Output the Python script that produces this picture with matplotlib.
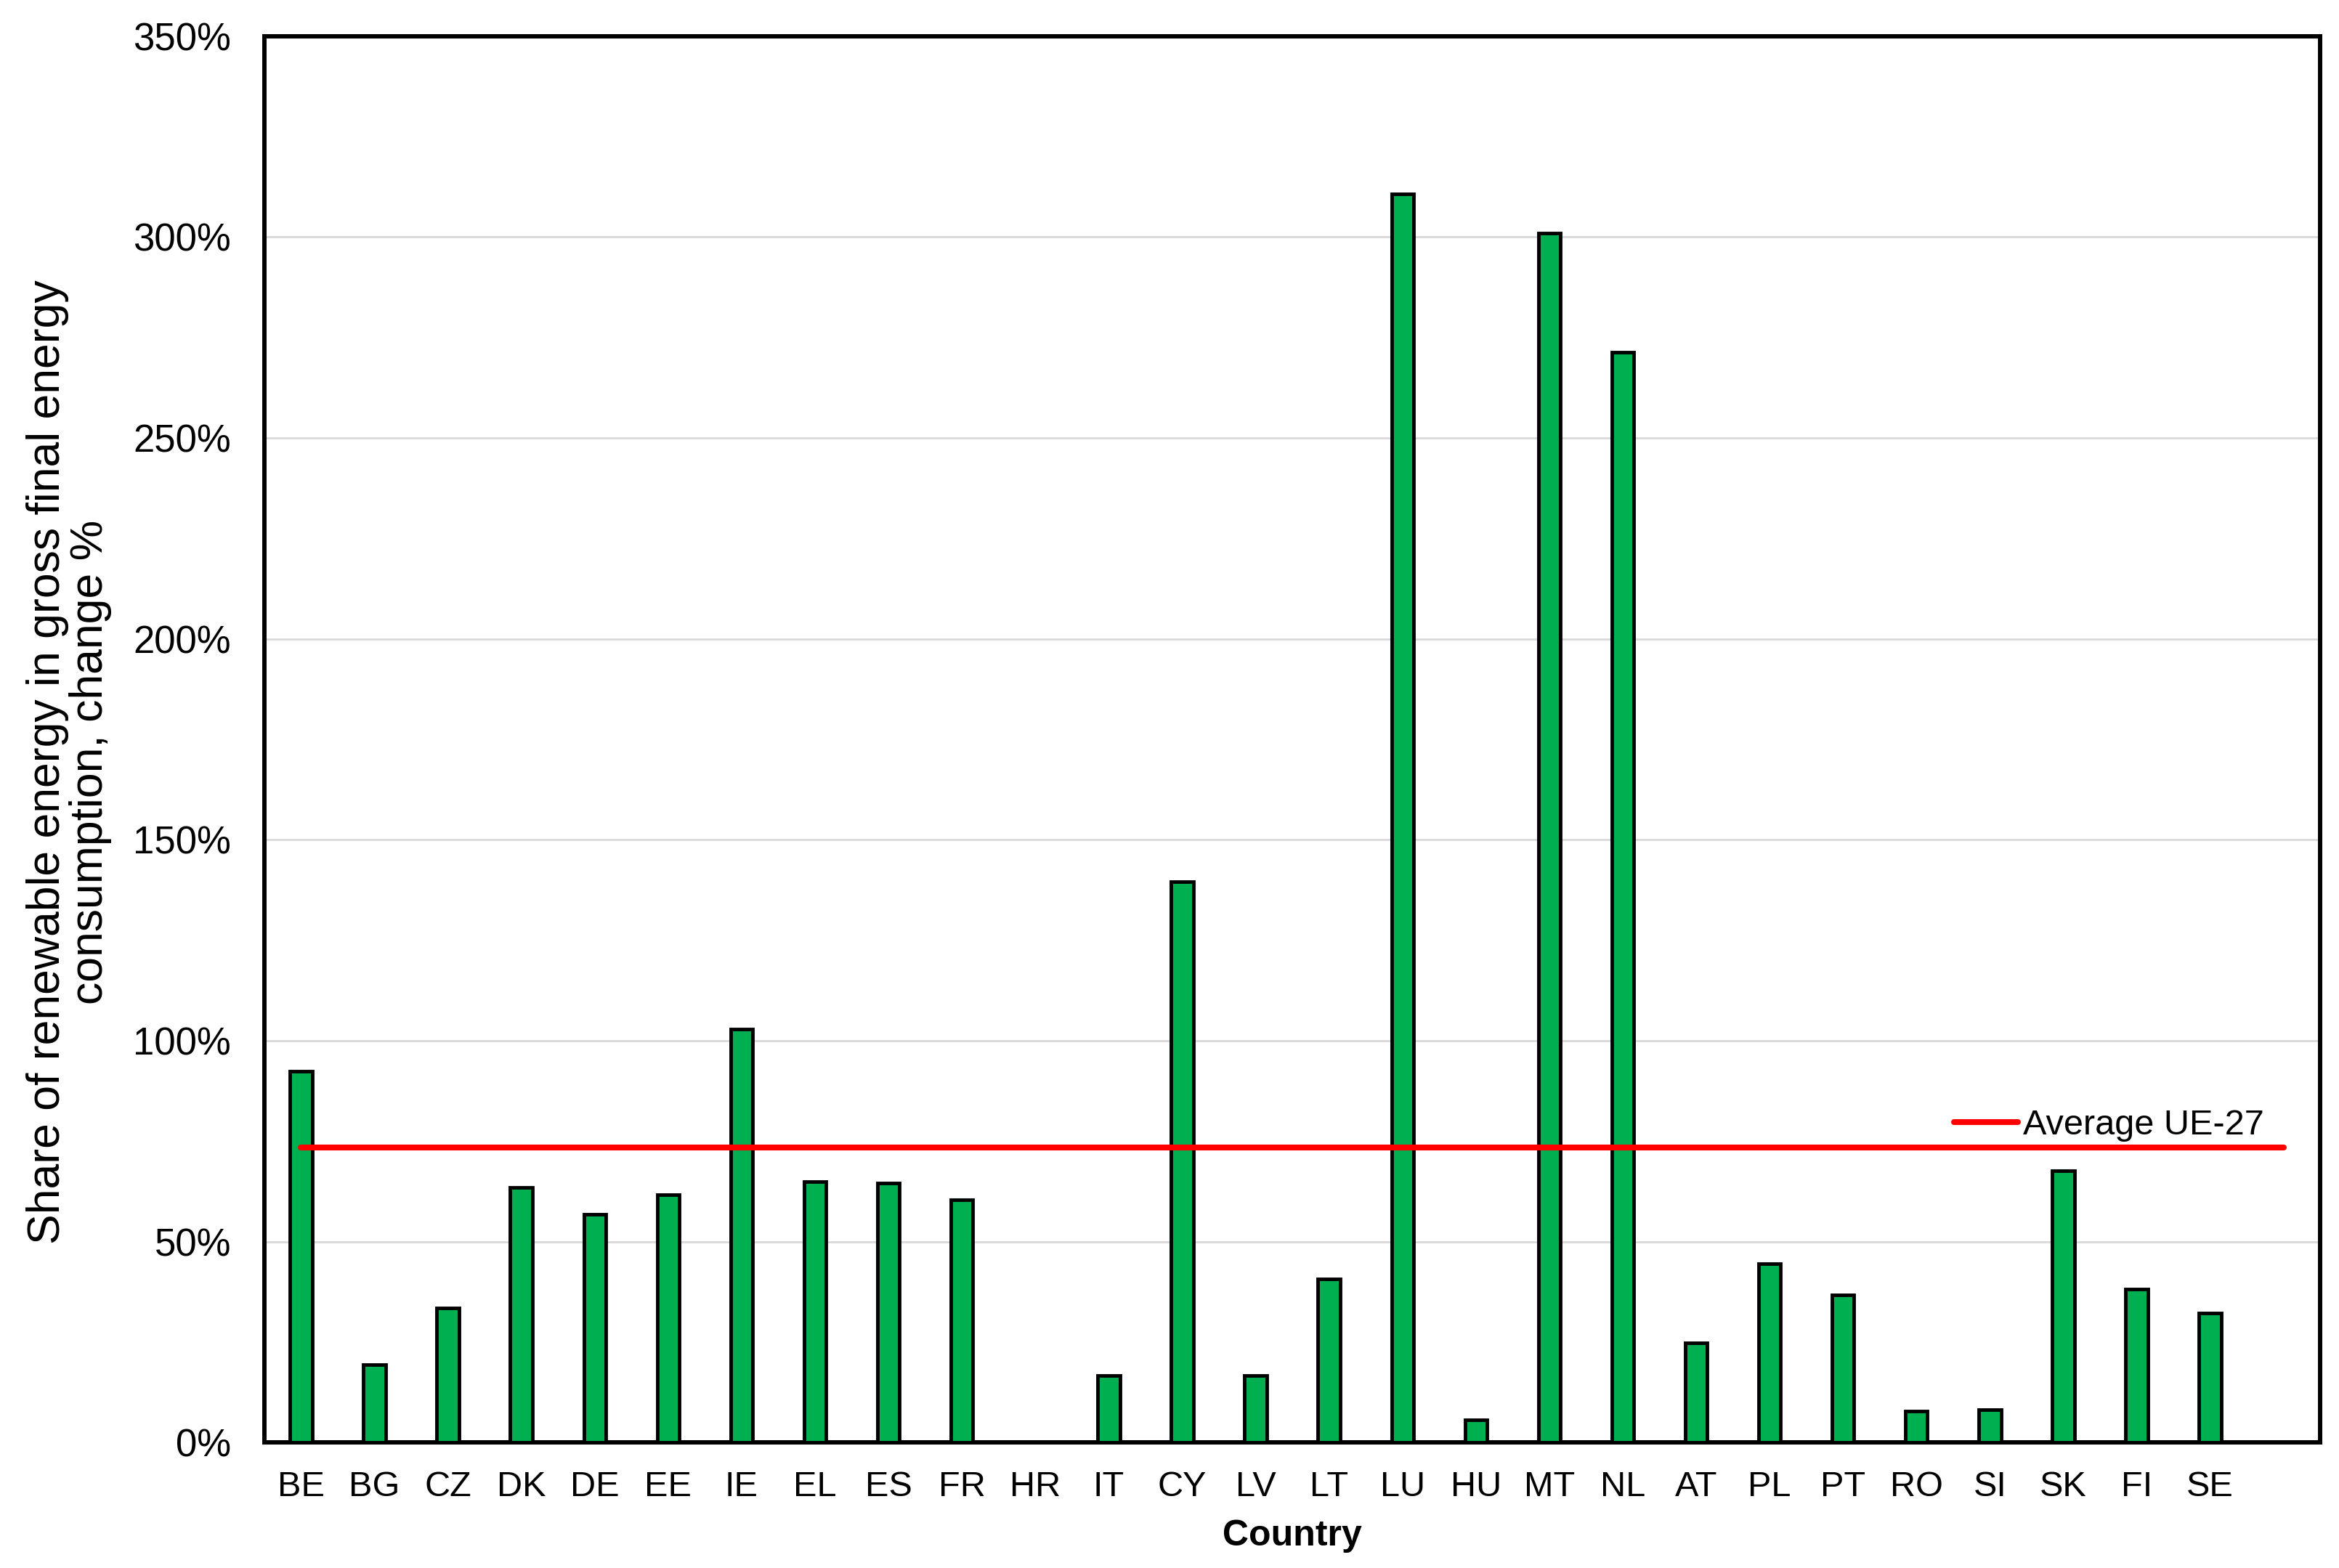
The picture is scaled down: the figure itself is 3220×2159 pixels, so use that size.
import matplotlib
matplotlib.use("Agg")
import matplotlib.pyplot as plt
from matplotlib.ticker import FuncFormatter

plt.rcParams['font.family'] = ['Liberation Sans', 'DejaVu Sans']

countries = ["BE", "BG", "CZ", "DK", "DE", "EE", "IE", "EL", "ES", "FR", "HR", "IT",
             "CY", "LV", "LT", "LU", "HU", "MT", "NL", "AT", "PL", "PT", "RO", "SI",
             "SK", "FI", "SE", ""]
change = [92.4, 19.3, 33.4, 63.5, 56.8, 61.6, 102.8, 65.0, 64.6, 60.5, 0.0, 16.7,
          139.6, 16.7, 40.8, 310.7, 5.6, 301.0, 271.3, 24.9, 44.5, 36.7, 7.8, 8.2,
          67.6, 38.2, 32.3, 0.0]
average_eu27 = [73.5] * len(countries)

fig = plt.figure(figsize=(32.2, 21.59), dpi=100)
ax = fig.add_axes([0.113, 0.080, 0.879, 0.897])

x = list(range(len(countries)))
ax.bar(x, change, width=0.3, color="#00B050", edgecolor="black", linewidth=3.5, zorder=3)
ax.plot(x, average_eu27, color="#FF0000", linewidth=5.8, solid_capstyle="round",
        label="Average UE-27", zorder=4)

ax.set_xlim(-0.5, len(countries) - 0.5)
ax.set_ylim(0, 350)
ax.set_yticks(range(0, 351, 50))
ax.yaxis.set_major_formatter(FuncFormatter(lambda v, p: f"{int(v)}%"))
ax.set_xticks(x)
ax.set_xticklabels(countries)
ax.tick_params(axis="y", length=0, pad=33, labelsize=38)
ax.tick_params(axis="x", length=0, pad=28, labelsize=35)

ax.grid(axis="y", color="#d9d9d9", linewidth=2, zorder=0)
ax.set_axisbelow(True)
for s in ax.spines.values():
    s.set_linewidth(4.3)
    s.set_color("black")

ax.set_xlabel("Country", fontsize=36, fontweight="bold", labelpad=16)
ax.set_ylabel("Share of renewable energy in gross final energy\nconsumption, change %",
              fontsize=45, linespacing=1.0)
ax.yaxis.set_label_coords(-0.074, 0.484)

ax.legend(loc="center left", bbox_to_anchor=(0.822, 0.2256), frameon=False,
          fontsize=35, handlelength=1.8, handletextpad=0.15,
          borderpad=0, borderaxespad=0)

fig.savefig("out.png", dpi=100)
